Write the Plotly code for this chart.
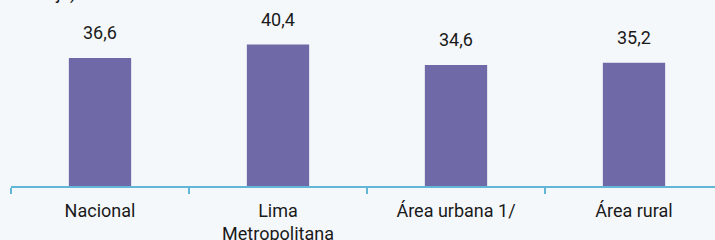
import plotly.graph_objects as go

categories = ["Nacional", "Lima<br>Metropolitana", "Área urbana 1/", "Área rural"]
values = [36.6, 40.4, 34.6, 35.2]
value_labels = ["36,6", "40,4", "34,6", "35,2"]

BAR = "#6f69a7"
BG = "#f5f8fb"
AXIS = "#62b6d8"
FONT = "Roboto"

fig = go.Figure()
fig.add_trace(go.Bar(x=categories, y=values, marker=dict(color=BAR, line=dict(width=0)),
                     hoverinfo="skip"))

for c, v, t in zip(categories, values, value_labels):
    fig.add_annotation(x=c, y=v, text=t, showarrow=False, xref="x", yref="y",
                       yanchor="bottom", yshift=13,
                       font=dict(family=FONT, size=18, color="#1a1a1a"))

fig.add_annotation(text="(Porcentaje)", xref="paper", yref="paper", x=0.095, y=1,
                   xanchor="right", yanchor="bottom", yshift=-6, showarrow=False,
                   font=dict(family=FONT, size=18, color="#1a1a1a"))

fig.update_layout(
    width=715, height=240,
    margin=dict(l=11, r=0, t=0, b=54, autoexpand=False),
    paper_bgcolor=BG, plot_bgcolor=BG,
    bargap=0.65,
    showlegend=False,
    font=dict(family=FONT, size=18, color="#1a1a1a"),
)
fig.update_xaxes(type="category", range=[-0.5, -0.5 + 704 / 178], automargin=False,
                 showline=True, linecolor=AXIS, linewidth=2,
                 ticks="outside", tickson="boundaries", ticklen=6, tickcolor=AXIS, tickwidth=2,
                 ticklabelstandoff=7,
                 showgrid=False, tickfont=dict(family=FONT, size=18, color="#1a1a1a"))
fig.update_yaxes(range=[0, 186 / 3.5], visible=False, showgrid=False, zeroline=False,
                 automargin=False)

fig.write_html("out.html", config={"displayModeBar": False},
               post_script="document.body.style.margin='0';document.body.style.background='#f5f8fb';document.body.style.overflow='hidden';")
